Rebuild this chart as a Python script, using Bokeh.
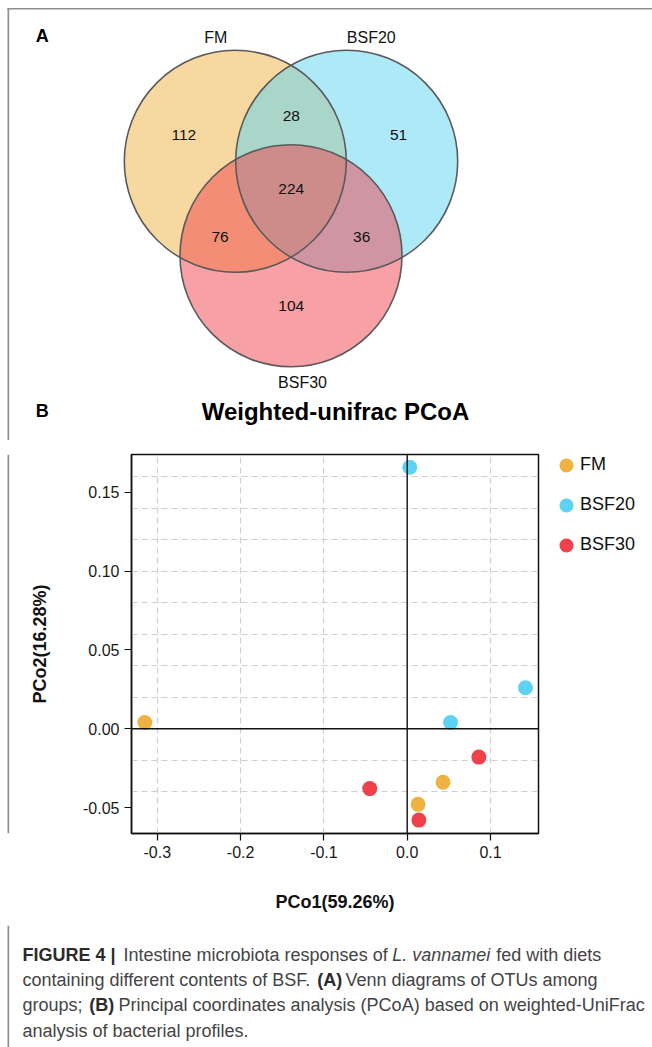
from bokeh.plotting import figure
from bokeh.models import Range1d, FixedTicker, PrintfTickFormatter, Span, Legend, LegendItem
from bokeh.layouts import column, row
from bokeh.core.properties import value
from bokeh.embed import file_html
from bokeh.resources import INLINE

FONT = "Liberation Sans"

# ---------------- data ----------------
venn_sets = ["FM", "BSF20", "BSF30"]
set_colors = ["#EFB141", "#5DD3F1", "#EF414B"]
# regions: FM only, BSF20 only, BSF30 only, FM&BSF20, FM&BSF30, BSF20&BSF30, all three
venn_counts = [112, 51, 104, 28, 76, 36, 224]

fm_pco1 = [-0.315, 0.043, 0.013]
fm_pco2 = [0.004, -0.034, -0.048]
bsf20_pco1 = [0.003, 0.052, 0.142]
bsf20_pco2 = [0.166, 0.004, 0.026]
bsf30_pco1 = [-0.045, 0.086, 0.014]
bsf30_pco2 = [-0.038, -0.018, -0.058]

x_ticks = [-0.3, -0.2, -0.1, 0.0, 0.1]
y_ticks = [-0.05, 0.0, 0.05, 0.10, 0.15]
x_grid = [-0.3, -0.2, -0.1, 0.1]
y_grid = [-0.04, -0.02, 0.02, 0.04, 0.06, 0.08, 0.10, 0.12, 0.14, 0.16]

caption_lines = [
    [("FIGURE 4 |", "bold"), ("Intestine microbiota responses of", "normal"),
     ("L. vannamei", "italic"), ("fed with diets", "normal")],
    [("containing different contents of BSF.", "normal"), ("(A)", "bold"),
     ("Venn diagrams of OTUs among", "normal")],
    [("groups;", "normal"), ("(B)", "bold"),
     ("Principal coordinates analysis (PCoA) based on weighted-UniFrac", "normal")],
    [("analysis of bacterial profiles.", "normal")],
]

# ---------------- layout constants (page pixels) ----------------
W = 652
FRAME_GRAY = "#8f8f8f"
TOP_H = 440     # page y 0..440
MID_H = 485     # page y 440..925
CAP_H = 122     # page y 925..1047
EDGE_W = 10
LEG_L = 552     # legend figure starts here

# ---------------- top figure: Venn + headings ----------------
top = figure(width=W, height=TOP_H, x_range=Range1d(0, W), y_range=Range1d(TOP_H, 0),
             output_backend="svg", toolbar_location=None, x_axis_location=None,
             y_axis_location=None, min_border=0, outline_line_color=None)
top.grid.visible = False
top.quad(left=[7, 7], right=[8.7, W], top=[7.5, 7.5], bottom=[TOP_H, 9.0],
         fill_color=FRAME_GRAY, line_color=None)

cx = [234.8, 346.2, 290.5]
cy = [160.8, 160.8, 255.2]
R = 111
top.circle(x=cx, y=cy, radius=R, fill_color=set_colors, fill_alpha=0.5, line_color=None)
top.circle(x=cx, y=cy, radius=R, fill_color=None, line_color="#5a5a5a", line_width=1.6)

top.text(x=[215.4, 370.8, 302.0], y=[37, 37, 382], text=venn_sets,
         text_font=value(FONT), text_font_size="16px", text_color="#111111",
         text_align="center", text_baseline="middle")
count_x = [183.3, 398.0, 290.8, 290.8, 219.6, 361.2, 290.8]
count_y = [134.3, 134.3, 305.0, 115.0, 236.0, 236.0, 188.3]
top.text(x=count_x, y=count_y, text=[str(c) for c in venn_counts],
         text_font=value(FONT), text_font_size="15.5px", text_color="#111111",
         text_align="center", text_baseline="middle")
top.text(x=[41.7, 41.7], y=[35, 410], text=["A", "B"], text_font=value(FONT),
         text_font_size="18px", text_font_style="bold", text_color="#000000",
         text_align="center", text_baseline="middle")
top.text(x=[335], y=[411], text=["Weighted-unifrac PCoA"], text_font=value(FONT),
         text_font_size="24px", text_font_style="bold", text_color="#000000",
         text_align="center", text_baseline="middle")

# ---------------- middle: PCoA scatter ----------------
edge = figure(width=EDGE_W, height=MID_H, x_range=Range1d(0, EDGE_W), y_range=Range1d(0, 1),
              output_backend="svg", toolbar_location=None, x_axis_location=None,
              y_axis_location=None, min_border=0, outline_line_color=None)
edge.grid.visible = False
edge.quad(left=[7], right=[8.7], bottom=[0], top=[1], fill_color=FRAME_GRAY, line_color=None)

FR_L, FR_R, FR_T, FR_B = 131, 538, 454, 833
BT = FR_T - TOP_H
BB = TOP_H + MID_H - FR_B
sc = figure(width=LEG_L - EDGE_W, height=MID_H,
            x_range=Range1d(-0.331, 0.1576), y_range=Range1d(-0.0665, 0.1741),
            output_backend="svg", toolbar_location=None,
            min_border_left=FR_L - EDGE_W, min_border_right=LEG_L - FR_R,
            min_border_top=BT, min_border_bottom=BB)
sc.outline_line_color = "#111111"
sc.outline_line_width = 1.5
sc.outline_line_alpha = 1.0

for ax in (sc.xaxis[0], sc.yaxis[0]):
    ax.major_tick_in = 0
    ax.major_tick_out = 7
    ax.minor_tick_line_color = None
    ax.major_tick_line_color = "#111111"
    ax.major_tick_line_width = 1.2
    ax.axis_line_color = "#111111"
    ax.axis_line_width = 1.5
    ax.major_label_text_font = FONT
    ax.major_label_text_font_size = "16px"
    ax.major_label_text_color = "#1a1a1a"
    ax.major_label_standoff = 5
    ax.axis_label_text_font = FONT
    ax.axis_label_text_font_size = "18px"
    ax.axis_label_text_font_style = "bold"
    ax.axis_label_text_color = "#111111"

sc.xaxis.ticker = FixedTicker(ticks=x_ticks)
sc.xaxis.formatter = PrintfTickFormatter(format="%.1f")
sc.yaxis.ticker = FixedTicker(ticks=y_ticks)
sc.yaxis.formatter = PrintfTickFormatter(format="%.2f")
sc.xaxis.axis_label = "PCo1(59.26%)"
sc.yaxis.axis_label = "PCo2(16.28%)"
sc.xaxis.axis_label_standoff = 31
sc.yaxis.axis_label_standoff = 30

sc.xgrid.ticker = FixedTicker(ticks=x_grid)
sc.ygrid.ticker = FixedTicker(ticks=y_grid)
sc.grid.grid_line_color = "#cfcfcf"
sc.grid.grid_line_dash = "6 4"
sc.grid.grid_line_width = 1.2

sc.add_layout(Span(location=0, dimension="height", line_color="#111111", line_width=1.4))
sc.add_layout(Span(location=0, dimension="width", line_color="#111111", line_width=1.4))

sc.scatter(fm_pco1, fm_pco2, size=15, fill_color=set_colors[0], line_color=None)
sc.scatter(bsf20_pco1, bsf20_pco2, size=15, fill_color=set_colors[1], line_color=None)
sc.scatter(bsf30_pco1, bsf30_pco2, size=15, fill_color=set_colors[2], line_color=None)

# ---------------- legend panel (to the right of the scatter) ----------------
# its ranges lie far from the data, so its key renderers only feed the legend
lg = figure(width=W - LEG_L, height=MID_H, x_range=Range1d(10, 11), y_range=Range1d(10, 11),
            output_backend="svg", toolbar_location=None, x_axis_location=None,
            y_axis_location=None, min_border_left=0, min_border_right=0,
            min_border_top=BT, min_border_bottom=BB, outline_line_color=None)
lg.grid.visible = False
GH = 16
GW = 28
KEY = 0.4 * min(GH, GW)          # marker size Bokeh uses for a legend key
group_x = [fm_pco1, bsf20_pco1, bsf30_pco1]
group_y = [fm_pco2, bsf20_pco2, bsf30_pco2]
key_renderers = [lg.scatter(gx, gy, size=KEY, fill_color=c, line_color=c, line_width=14 - KEY)
                 for gx, gy, c in zip(group_x, group_y, set_colors)]
legend = Legend(items=[LegendItem(label=name, renderers=[r]) for name, r in zip(venn_sets, key_renderers)],
                location="top_left", orientation="vertical",
                border_line_color=None, background_fill_alpha=0,
                padding=0, margin=0, spacing=19,
                glyph_width=GW, glyph_height=GH, label_height=GH,
                label_standoff=0, label_text_font=FONT,
                label_text_font_size="18px", label_text_color="#111111")
lg.add_layout(legend)

# ---------------- caption ----------------
CAP_T = TOP_H + MID_H
cap = figure(width=W, height=CAP_H, x_range=Range1d(0, W), y_range=Range1d(CAP_T + CAP_H, CAP_T),
             output_backend="svg", toolbar_location=None, x_axis_location=None,
             y_axis_location=None, min_border=0, outline_line_color=None)
cap.grid.visible = False
cap.quad(left=[7], right=[8.7], top=[CAP_T], bottom=[CAP_T + CAP_H], fill_color=FRAME_GRAY, line_color=None)

seg_x = [[22, 123, 391.7, 495.8], [22, 316.7, 345], [22, 88.7, 118], [22]]
line_y = [954, 979, 1004, 1030]
for li, segs in enumerate(caption_lines):
    for si, (txt, style) in enumerate(segs):
        cap.text(x=[seg_x[li][si]], y=[line_y[li]], text=[txt], text_font=value(FONT),
                 text_font_size="18px", text_font_style=style,
                 text_color="#2b2b2b" if style == "bold" else "#444444",
                 text_align="left", text_baseline="middle")

layout = column(top, row(edge, sc, lg, spacing=0), cap, spacing=0)
open("out.html", "w").write(file_html(layout, INLINE))
